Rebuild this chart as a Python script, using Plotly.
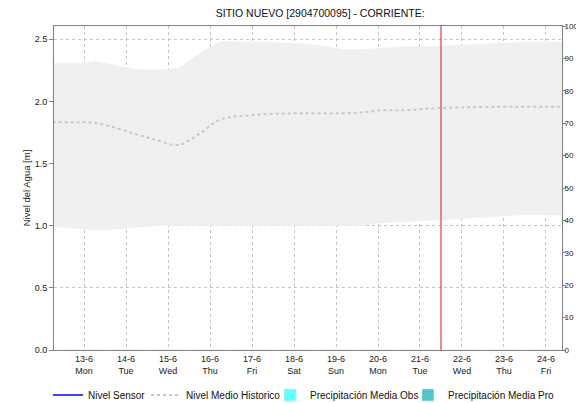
import plotly.graph_objects as go

# historic band (min / mean / max) sampled at irregular times
hist_times = [
    "2022-06-12 06:00", "2022-06-13 00:00", "2022-06-13 06:00", "2022-06-13 15:00",
    "2022-06-14 06:00", "2022-06-14 16:00", "2022-06-15 06:00", "2022-06-15 18:00",
    "2022-06-16 06:00", "2022-06-17 00:00", "2022-06-18 00:00", "2022-06-18 14:00",
    "2022-06-19 04:00", "2022-06-19 16:00", "2022-06-20 00:00", "2022-06-20 16:00",
    "2022-06-21 08:00", "2022-06-22 00:00", "2022-06-22 18:00", "2022-06-23 13:00",
    "2022-06-24 12:00",
]
hist_max = [2.31, 2.31, 2.325, 2.30, 2.258, 2.255, 2.27, 2.39, 2.485, 2.48, 2.47,
            2.455, 2.42, 2.42, 2.43, 2.443, 2.445, 2.456, 2.467, 2.478, 2.483]
hist_mean = [1.832, 1.832, 1.828, 1.80, 1.735, 1.695, 1.65, 1.74, 1.855, 1.89, 1.904,
             1.904, 1.905, 1.913, 1.927, 1.93, 1.945, 1.952, 1.957, 1.957, 1.957]
hist_min = [0.99, 0.97, 0.965, 0.968, 0.985, 0.995, 1.0, 1.0, 1.0, 1.0, 1.0,
            1.0, 1.0, 1.0, 1.02, 1.03, 1.045, 1.055, 1.072, 1.088, 1.082]

# daily precipitation (right axis, %), all zero
days = ["2022-06-%02d" % d for d in range(13, 25)]
day_names = ["Mon", "Tue", "Wed", "Thu", "Fri", "Sat", "Sun", "Mon", "Tue", "Wed", "Thu", "Fri"]
tick_text = ["%d-6<br>%s" % (int(d[-2:]), n) for d, n in zip(days, day_names)]
precip_obs = [0] * len(days)
precip_pro = [0] * len(days)

# sensor has no readings in the window
sensor_level = [None] * len(days)

current_time = "2022-06-21 12:00"
x_range = ["2022-06-12 06:51", "2022-06-24 09:09"]

font = "Liberation Sans, Arial, sans-serif"

fig = go.Figure()
fig.add_trace(go.Scatter(x=hist_times, y=hist_min, mode="lines", line=dict(width=0),
                         showlegend=False, hoverinfo="skip"))
fig.add_trace(go.Scatter(x=hist_times, y=hist_max, mode="lines", line=dict(width=0),
                         fill="tonexty", fillcolor="#f0f0f0", showlegend=False,
                         hoverinfo="skip"))
fig.add_trace(go.Scatter(x=days, y=sensor_level, mode="lines", name="Nivel Sensor",
                         line=dict(color="#0000ff", width=1.5), legend="legend"))
fig.add_trace(go.Scatter(x=hist_times, y=hist_mean, mode="lines", name="Nivel Medio Historico",
                         line=dict(color="#c8c8c8", width=2, dash="dot", shape="spline"),
                         legend="legend2"))
fig.add_trace(go.Bar(x=days, y=precip_obs, name="Precipitación Media Obs",
                     marker_color="#5effff", yaxis="y2", legend="legend3"))
fig.add_trace(go.Bar(x=days, y=precip_pro, name="Precipitación Media Pro",
                     marker_color="#4cc9c9", yaxis="y2", legend="legend4"))

fig.add_shape(type="line", x0=current_time, x1=current_time, y0=0, y1=1,
              xref="x", yref="paper", line=dict(color="#e03c40", width=1.2))


def legend_at(x):
    return dict(orientation="h", x=x, xanchor="left", xref="container",
                y=0.0203, yanchor="middle", yref="container",
                bgcolor="rgba(0,0,0,0)", font=dict(size=10, color="#111"))


# page body adds an 8px offset, so the figure is 8px smaller than the window
fig.update_layout(
    width=576, height=395,
    margin=dict(l=46, r=22, t=18, b=53, autoexpand=False),
    paper_bgcolor="white", plot_bgcolor="white",
    font=dict(family=font, size=9, color="#222"),
    title=dict(text="SITIO NUEVO [2904700095] - CORRIENTE:", x=0.542, xanchor="center",
               y=0.987, yanchor="middle", font=dict(size=10.5, color="#111")),
    xaxis=dict(type="date", range=x_range, tickvals=days, ticktext=tick_text,
               showgrid=True, gridcolor="#c4c4c4", griddash="dot", gridwidth=1,
               showline=True, linecolor="#808080", mirror=True, ticks="",
               tickfont=dict(size=9), zeroline=False),
    yaxis=dict(range=[0, 2.607], dtick=0.5, tickformat=".1f", showgrid=True,
               gridcolor="#c4c4c4", griddash="dot", showline=True, linecolor="#808080",
               ticks="outside", ticklen=4, tickcolor="#808080", zeroline=False,
               title=dict(text="Nivel del Agua [m]", font=dict(size=9.5), standoff=2)),
    yaxis2=dict(range=[0, 100], dtick=10, overlaying="y", side="right", showgrid=False,
                showline=True, linecolor="#808080", ticks="outside", ticklen=3,
                tickcolor="#808080", zeroline=False, ticklabelstandoff=-3,
                tickfont=dict(size=8, family="Liberation Sans Narrow, Liberation Sans")),
    legend=legend_at(0.0694),
    legend2=legend_at(0.2396),
    legend3=legend_at(0.4549),
    legend4=legend_at(0.6944),
    bargap=0.3,
)

fig.write_html("out.html")
